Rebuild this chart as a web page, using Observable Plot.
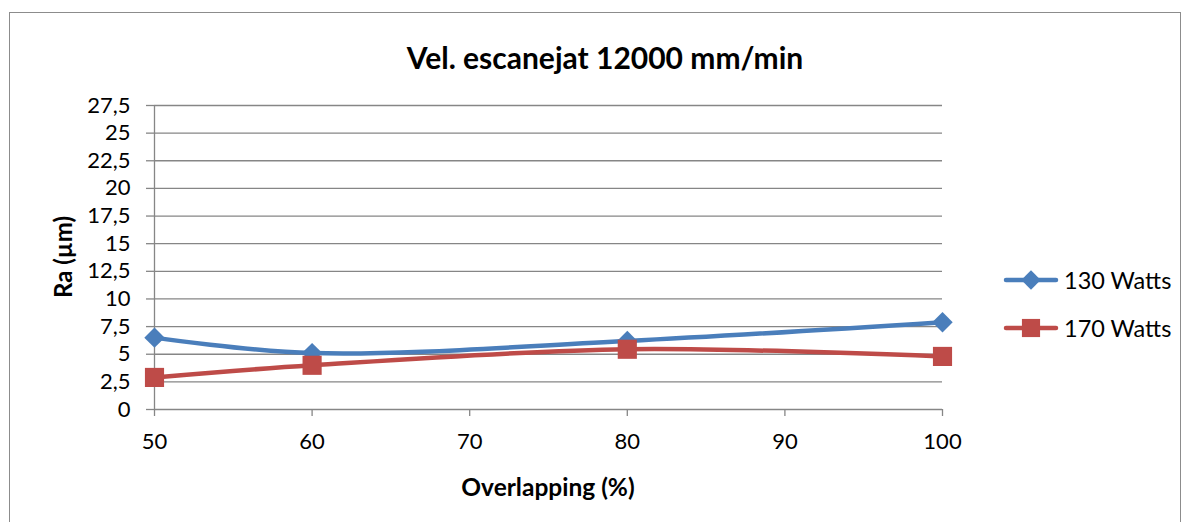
<!DOCTYPE html>
<html>
<head>
<meta charset="utf-8">
<script src="https://cdn.jsdelivr.net/npm/d3@7"></script>
<script src="https://cdn.jsdelivr.net/npm/@observablehq/plot@0.6"></script>
<style>
  html, body { margin: 0; padding: 0; background: #fff; }
  #wrap { position: relative; width: 1190px; height: 522px; font-family: Lato, "Open Sans", sans-serif; color: #000; overflow: hidden; }
  #frame { position: absolute; left: 9px; top: 12px; width: 1172px; height: 514px; border: 1.5px solid #8c8c8c; box-sizing: border-box; }
  .abs { position: absolute; white-space: nowrap; }
  #title { left: 605px; top: 57px; transform: translate(-50%, -50%); font-weight: bold; font-size: 30px; }
  #ylab { left: 62px; top: 257px; transform: translate(-50%, -50%) rotate(-90deg); font-weight: bold; font-size: 24px; }
  #xlab { left: 548px; top: 486px; transform: translate(-50%, -50%); font-weight: bold; font-size: 24.5px; }
  .leg { display: flex; align-items: center; gap: 5px; font-size: 23.5px; }
  #chart { position: absolute; left: 0; top: 0; }
</style>
</head>
<body>
<div id="wrap">
  <div id="frame"></div>
  <div id="chart"></div>
  <div id="title" class="abs"></div>
  <div id="ylab" class="abs"></div>
  <div id="xlab" class="abs"></div>
  <div id="legend"></div>
</div>
<script>
const titleText = "Vel. escanejat 12000 mm/min";
const xLabel = "Overlapping (%)";
const yLabel = "Ra (µm)";
const overlap = [50, 60, 80, 100];
const seriesNames = ["130 Watts", "170 Watts"];
const w130 = [6.5, 5.1, 6.2, 7.9];
const w170 = [2.9, 4.0, 5.45, 4.8];
const xTicks = [50, 60, 70, 80, 90, 100];
const yTicks = [0, 2.5, 5, 7.5, 10, 12.5, 15, 17.5, 20, 22.5, 25, 27.5];
const colors = ["#4a7ebb", "#be4b48"];
const symbols = ["diamond2", "square"];
const radii = [9.2, 10.8];

const data = [];
overlap.forEach((x, i) => {
  data.push({x, y: w130[i], s: seriesNames[0]});
  data.push({x, y: w170[i], s: seriesNames[1]});
});

document.getElementById("title").textContent = titleText;
document.getElementById("xlab").textContent = xLabel;
document.getElementById("ylab").textContent = yLabel;

const fmt = d => String(d).replace(".", ",");
const grid = "#868686";

const marks = [
  Plot.ruleY(yTicks.filter(d => d > 0), {stroke: grid, strokeWidth: 1.3}),
  Plot.ruleX([50], {stroke: grid, strokeWidth: 1.3}),
  Plot.ruleY([0], {stroke: grid, strokeWidth: 1.3}),
  Plot.axisY({ticks: yTicks, tickFormat: fmt, tickSize: 8, tickPadding: 16, stroke: grid, strokeWidth: 1.3, fontSize: 22, label: null}),
  Plot.axisX({ticks: xTicks, tickFormat: d => String(d), tickSize: 7, tickPadding: 17, stroke: grid, strokeWidth: 1.3, fontSize: 22, label: null})
];
seriesNames.forEach((name, k) => {
  const d = data.filter(r => r.s === name);
  marks.push(Plot.line(d, {x: "x", y: "y", stroke: colors[k], strokeWidth: 4.5, curve: "catmull-rom"}));
});
seriesNames.forEach((name, k) => {
  const d = data.filter(r => r.s === name);
  marks.push(Plot.dot(d, {x: "x", y: "y", symbol: symbols[k], fill: colors[k], stroke: "none", r: radii[k]}));
});

const plot = Plot.plot({
  width: 1190,
  height: 522,
  marginLeft: 154,
  marginRight: 248,
  marginTop: 105,
  marginBottom: 113,
  style: {fontFamily: "Lato, 'Open Sans', sans-serif", fontSize: "22px", color: "#000", background: "transparent", overflow: "visible"},
  x: {domain: [50, 100]},
  y: {domain: [0, 27.5]},
  marks
});
document.getElementById("chart").appendChild(plot);

// legend
const legend = document.getElementById("legend");
const legTops = [280, 328];
seriesNames.forEach((name, k) => {
  const row = document.createElement("div");
  row.className = "abs leg";
  row.style.left = "1003px";
  row.style.top = legTops[k] + "px";
  row.style.transform = "translateY(-50%)";
  const sym = d3.symbol(k === 0 ? d3.symbolDiamond2 : d3.symbolSquare, Math.PI * radii[k] * radii[k] * 0.9)();
  row.innerHTML = `<svg width="56" height="24" viewBox="0 0 56 24"><line x1="3" y1="12" x2="53" y2="12" stroke="${colors[k]}" stroke-width="4.5" stroke-linecap="round"/><path d="${sym}" transform="translate(28,12)" fill="${colors[k]}"/></svg><span>${name}</span>`;
  legend.appendChild(row);
});
</script>
</body>
</html>
